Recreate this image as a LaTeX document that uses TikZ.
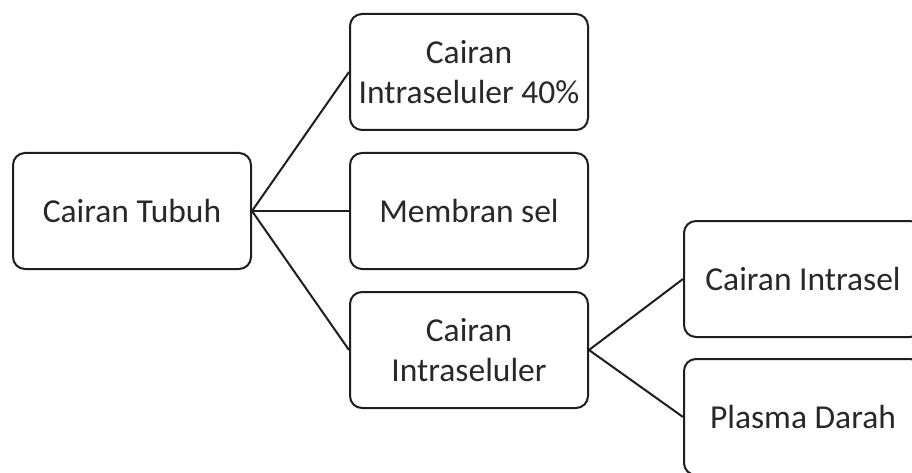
\documentclass[tikz,border=0pt]{standalone}
\usepackage{fontspec}
\setmainfont{Carlito}
\definecolor{edgegray}{RGB}{30, 30, 30}
\definecolor{textgray}{RGB}{40, 40, 40}
\usetikzlibrary{positioning}
\tikzset{
  box/.style={rectangle, draw=edgegray, fill=white, rounded corners=12pt, line width=2pt,
    minimum width=238pt, minimum height=116pt, align=center, text=textgray,
    font=\fontsize{33.5}{40}\selectfont},
  link/.style={draw=edgegray, line width=2pt},
}
\begin{document}
\begin{tikzpicture}[x=1pt, y=-1pt]
\useasboundingbox[fill=white] (0,0) rectangle (912,473);
\clip (0,0) rectangle (912,473);
\node[box] (tubuh) at (132,211) {Cairan Tubuh};
\node[box, right=97pt of tubuh] (membran) {Membran sel};
\node[box, above=21pt of membran] (intra40) {Cairan\\Intraseluler 40\%};
\node[box, below=21pt of membran] (intraseluler) {Cairan\\Intraseluler};
\node[box] (intrasel) at (803,279) {Cairan Intrasel};
\node[box] (plasma) at (803,417) {Plasma Darah};
% links
\foreach \child in {intra40, membran, intraseluler}
  \draw[link] (tubuh.east) -- (\child.west);
\foreach \child in {intrasel, plasma}
  \draw[link] (intraseluler.east) -- (\child.west);
\end{tikzpicture}
\end{document}
